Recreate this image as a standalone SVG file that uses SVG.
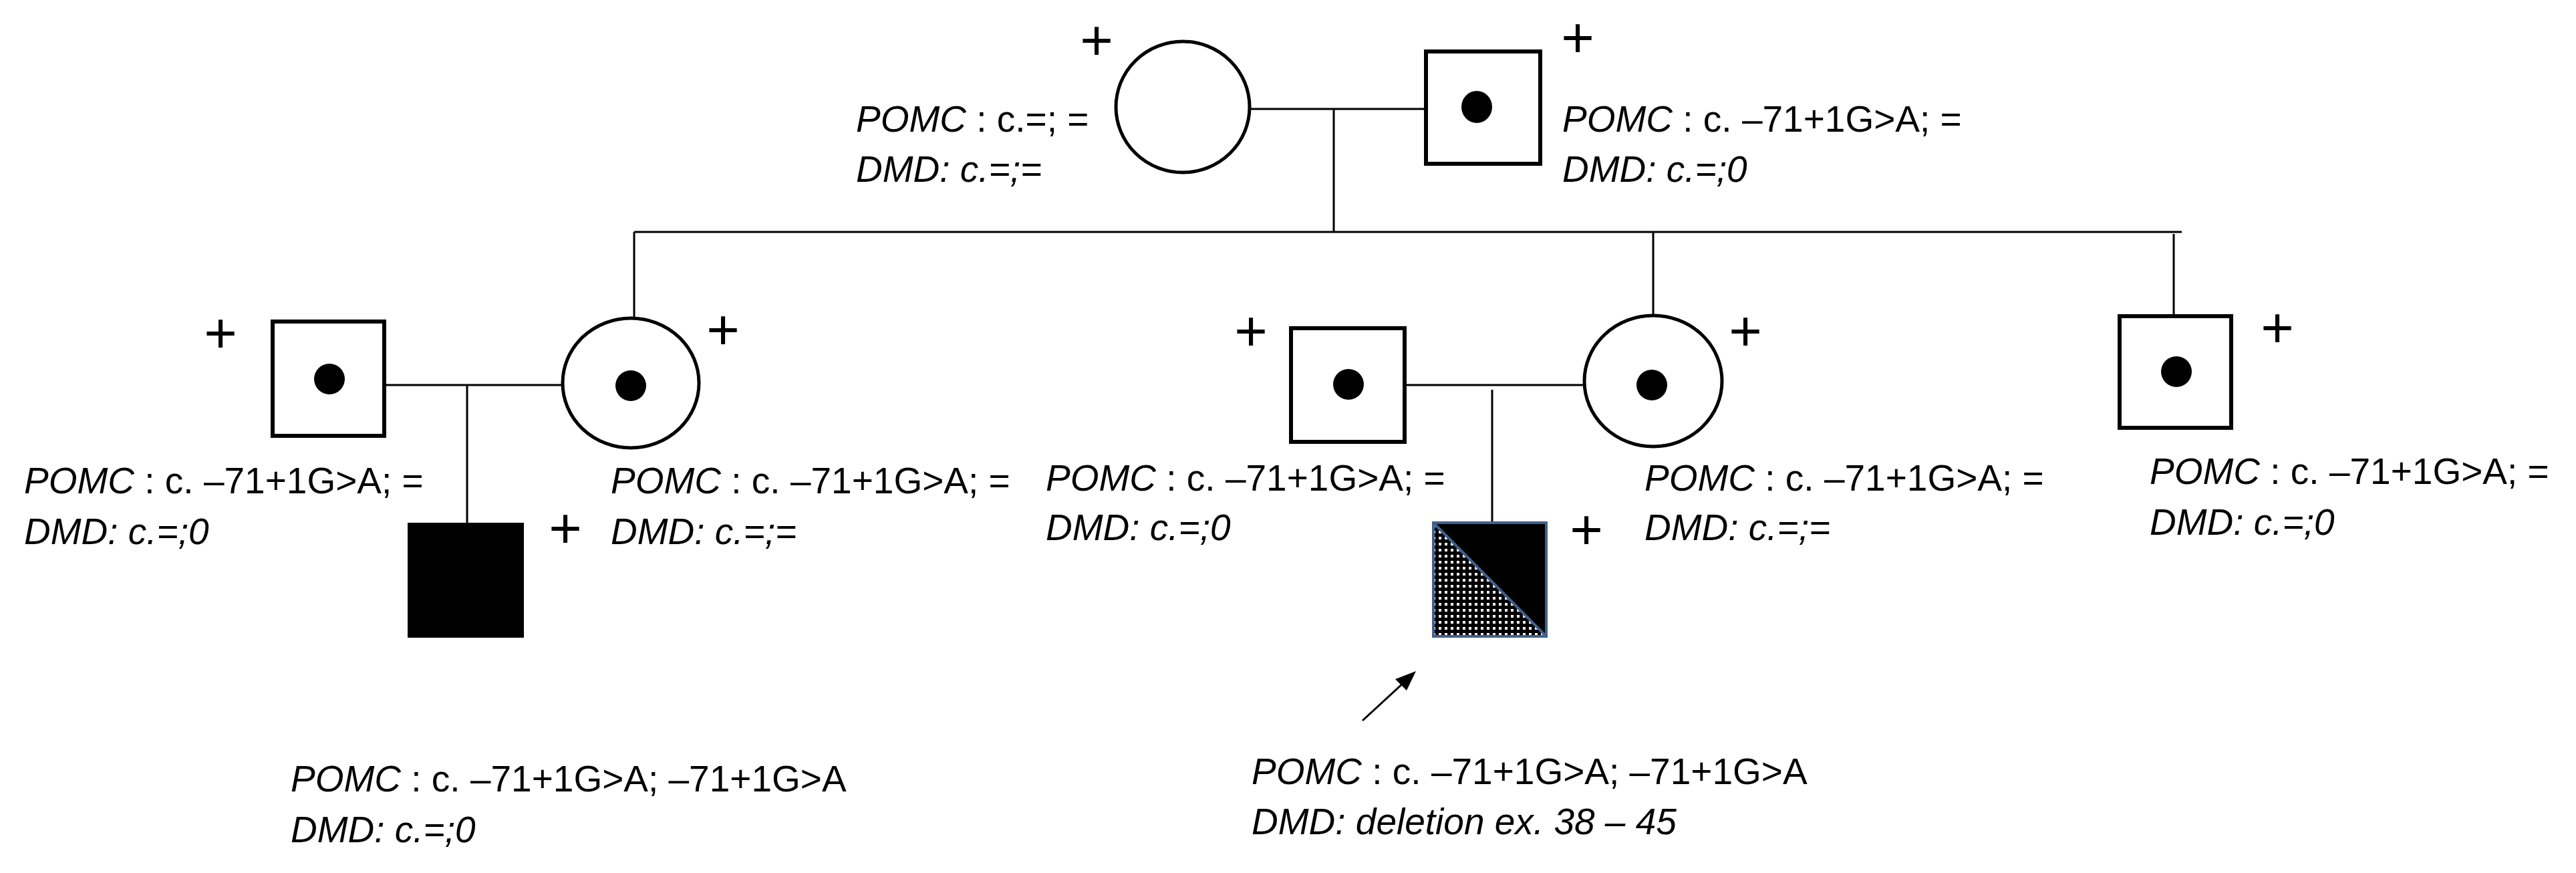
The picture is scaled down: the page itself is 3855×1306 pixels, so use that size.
<svg xmlns="http://www.w3.org/2000/svg" width="3855" height="1306" viewBox="0 0 3855 1306">
<style>
text{font-family:"Liberation Sans",Arial,sans-serif;font-size:55px;fill:#000}
.i{font-style:italic}
.p{font-size:85px;text-anchor:middle}
.sq{fill:#fff;stroke:#000;stroke-width:6}
.ci{fill:#fff;stroke:#000;stroke-width:5}
.ln{stroke:#000;stroke-width:3;fill:none}
</style>
<defs>
<pattern id="dots" width="9" height="9" patternUnits="userSpaceOnUse"><rect width="9" height="9" fill="#000"/><rect x="2" y="2" width="4" height="4" fill="#fff"/></pattern>
<marker id="ah" markerWidth="10" markerHeight="10" refX="9" refY="5" orient="auto" markerUnits="userSpaceOnUse" viewBox="0 0 10 10"><path d="M0,0 L10,5 L0,10 z" fill="#000"/></marker>
</defs>
<g id="connectors">
<line class="ln" x1="1870" y1="163" x2="2134" y2="163"/>
<line class="ln" x1="1996" y1="163" x2="1996" y2="347"/>
<line class="ln" x1="949" y1="347" x2="3265" y2="347"/>
<line class="ln" x1="949" y1="347" x2="949" y2="477"/>
<line class="ln" x1="2474" y1="347" x2="2474" y2="473"/>
<line class="ln" x1="3253" y1="350" x2="3253" y2="473"/>
<line class="ln" x1="575" y1="576" x2="842" y2="576"/>
<line class="ln" x1="699" y1="576" x2="699" y2="782"/>
<line class="ln" x1="2102" y1="576" x2="2371" y2="576"/>
<line class="ln" x1="2233" y1="583" x2="2233" y2="782"/>
<line stroke="#000" stroke-width="3" x1="2039" y1="1078" x2="2115" y2="1008"/>
<path d="M2119,1004 L2088,1016 L2105,1033 z" fill="#000"/>
</g>
<g id="mother">
<ellipse class="ci" cx="1770" cy="160" rx="100" ry="98"/>
<text class="p" x="1641" y="90">+</text>
<text x="1281" y="197"><tspan class="i">POMC</tspan> : c.=; =</text>
<text class="i" x="1281" y="272">DMD: c.=;=</text>
</g>
<g id="father">
<rect class="sq" x="2134" y="77" width="171" height="168"/>
<ellipse cx="2210" cy="160" rx="23" ry="24"/>
<text class="p" x="2361" y="86">+</text>
<text x="2338" y="197"><tspan class="i">POMC</tspan> : c. –71+1G&gt;A; =</text>
<text class="i" x="2338" y="272">DMD: c.=;0</text>
</g>
<g id="left-husband">
<rect class="sq" x="408" y="481" width="167" height="171"/>
<circle cx="493" cy="567" r="23"/>
<text class="p" x="330" y="528">+</text>
<text x="36" y="738"><tspan class="i">POMC</tspan> : c. –71+1G&gt;A; =</text>
<text class="i" x="36" y="814">DMD: c.=;0</text>
</g>
<g id="left-daughter">
<ellipse class="ci" cx="944" cy="573" rx="102" ry="97"/>
<circle cx="944" cy="577" r="23"/>
<text class="p" x="1082" y="523">+</text>
<text x="914" y="738"><tspan class="i">POMC</tspan> : c. –71+1G&gt;A; =</text>
<text class="i" x="914" y="814">DMD: c.=;=</text>
</g>
<g id="left-child">
<rect x="610" y="782" width="174" height="172" fill="#000"/>
<text class="p" x="846" y="820">+</text>
<text x="435" y="1184"><tspan class="i">POMC</tspan> : c. –71+1G&gt;A; –71+1G&gt;A</text>
<text class="i" x="435" y="1260">DMD: c.=;0</text>
</g>
<g id="middle-husband">
<rect class="sq" x="1932" y="491" width="170" height="170"/>
<circle cx="2018" cy="575" r="23"/>
<text class="p" x="1872" y="525">+</text>
<text x="1565" y="734"><tspan class="i">POMC</tspan> : c. –71+1G&gt;A; =</text>
<text class="i" x="1565" y="808">DMD: c.=;0</text>
</g>
<g id="middle-daughter">
<ellipse class="ci" cx="2474" cy="570" rx="103" ry="98"/>
<circle cx="2472" cy="576" r="23"/>
<text class="p" x="2612" y="525">+</text>
<text x="2461" y="734"><tspan class="i">POMC</tspan> : c. –71+1G&gt;A; =</text>
<text class="i" x="2461" y="808">DMD: c.=;=</text>
</g>
<g id="proband">
<polygon points="2145,782 2314,782 2314,952" fill="#000"/>
<polygon points="2145,782 2314,952 2145,952" fill="url(#dots)"/>
<rect x="2145" y="782" width="169" height="170" fill="none" stroke="#41608a" stroke-width="4"/>
<line x1="2145" y1="782" x2="2314" y2="952" stroke="#41608a" stroke-width="4"/>
<text class="p" x="2374" y="822">+</text>
<text x="1873" y="1173"><tspan class="i">POMC</tspan> : c. –71+1G&gt;A; –71+1G&gt;A</text>
<text class="i" x="1873" y="1248">DMD: deletion ex. 38 – 45</text>
</g>
<g id="right-son">
<rect class="sq" x="3172" y="473" width="167" height="167"/>
<circle cx="3257" cy="556" r="23"/>
<text class="p" x="3408" y="520">+</text>
<text x="3217" y="724"><tspan class="i">POMC</tspan> : c. –71+1G&gt;A; =</text>
<text class="i" x="3217" y="800">DMD: c.=;0</text>
</g>
</svg>
